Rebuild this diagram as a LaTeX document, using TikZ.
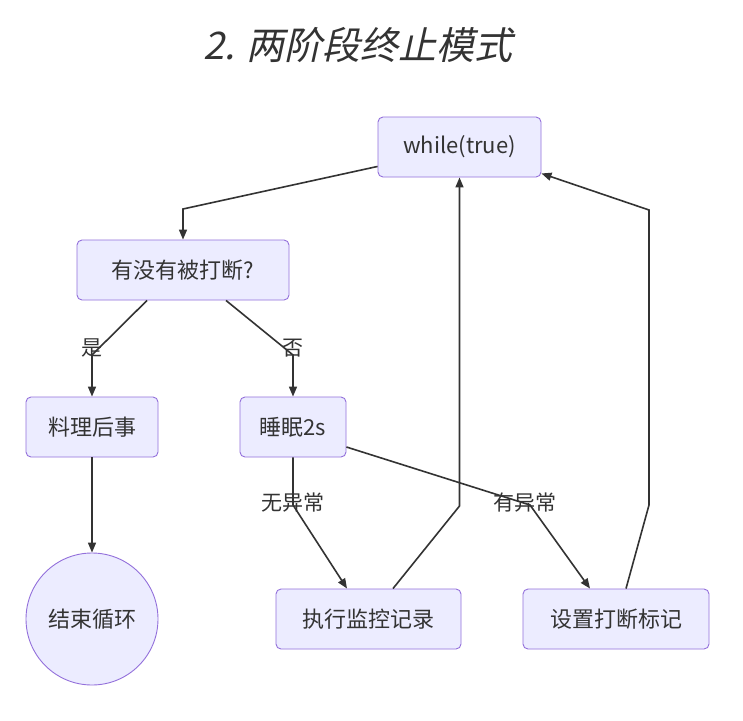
\documentclass[tikz,border=0pt]{standalone}
\usepackage{fontspec}
\setmainfont{Noto Sans CJK SC}
\newfontfamily\titlefont[FakeSlant=0.22]{Noto Sans CJK SC}
\usetikzlibrary{arrows.meta}
\definecolor{nodefill}{HTML}{ECECFF}
\definecolor{nodeborder}{HTML}{9370DB}
\definecolor{ink}{HTML}{333333}
\begin{document}
\begin{tikzpicture}[x=1pt,y=-1pt,
  box/.style={draw=nodeborder, fill=nodefill, rounded corners=5pt, line width=0.9pt,
    text=ink, font=\fontsize{22}{22}\selectfont, inner sep=0pt, minimum height=60pt},
  roundnode/.style={circle, draw=nodeborder, fill=nodefill, line width=0.9pt,
    text=ink, font=\fontsize{22}{22}\selectfont, inner sep=0pt, minimum size=132pt},
  edge/.style={draw=ink, line width=1.6pt, -{Triangle[length=10pt,width=8pt]}},
  elabel/.style={text=ink, font=\fontsize{21}{21}\selectfont, inner sep=0pt}]
\useasboundingbox[fill=white] (0,0) rectangle (743,720);
\node[text=ink, font=\titlefont\fontsize{38}{38}\selectfont] (title) at (358,45) {2. 两阶段终止模式};
\node[box, minimum width=163pt] (while) at (459.5,147) {while(true)};
\node[box, minimum width=212pt] (q) at (183,270) {有没有被打断?};
\node[box, minimum width=132pt] (lh) at (92,427) {料理后事};
\node[box, minimum width=106pt] (sleep) at (293,427) {睡眠2s};
\node[roundnode] (end) at (92,619) {结束循环};
\node[box, minimum width=185pt] (exec) at (368.5,619) {执行监控记录};
\node[box, minimum width=186pt] (set) at (616,619) {设置打断标记};
\coordinate (c1) at (183,209);
\coordinate (c2) at (92,355);
\coordinate (c3) at (293,355);
\coordinate (c4) at (293,505);
\coordinate (c5) at (530,505);
\coordinate (c6) at (459.5,506);
\coordinate (c7) at (649,505);
\coordinate (c8) at (649,210);
\draw[edge] ([yshift=11pt]while.south west) -- (c1) -- (q.north);
\draw[edge] ([xshift=-36pt]q.south) -- (c2) -- (lh.north);
\draw[edge] ([xshift=43pt]q.south) -- (c3) -- (sleep.north);
\draw[edge] (lh.south) -- (end.north);
\draw[edge] (sleep.south) -- (c4) -- ([xshift=-21.5pt]exec.north);
\draw[edge] ([yshift=-20pt]sleep.east) -- (c5) -- ([xshift=-26pt]set.north);
\draw[edge] ([xshift=24.5pt]exec.north) -- (c6) -- (while.south);
\draw[edge] ([xshift=10pt]set.north) -- (c7) -- (c8) -- ([yshift=4pt]while.south east);
\node[elabel] (l1) at (92,348) {是};
\node[elabel] (l2) at (293,348) {否};
\node[elabel] (l3) at (293,503) {无异常};
\node[elabel] (l4) at (525,503) {有异常};
\end{tikzpicture}
\end{document}
